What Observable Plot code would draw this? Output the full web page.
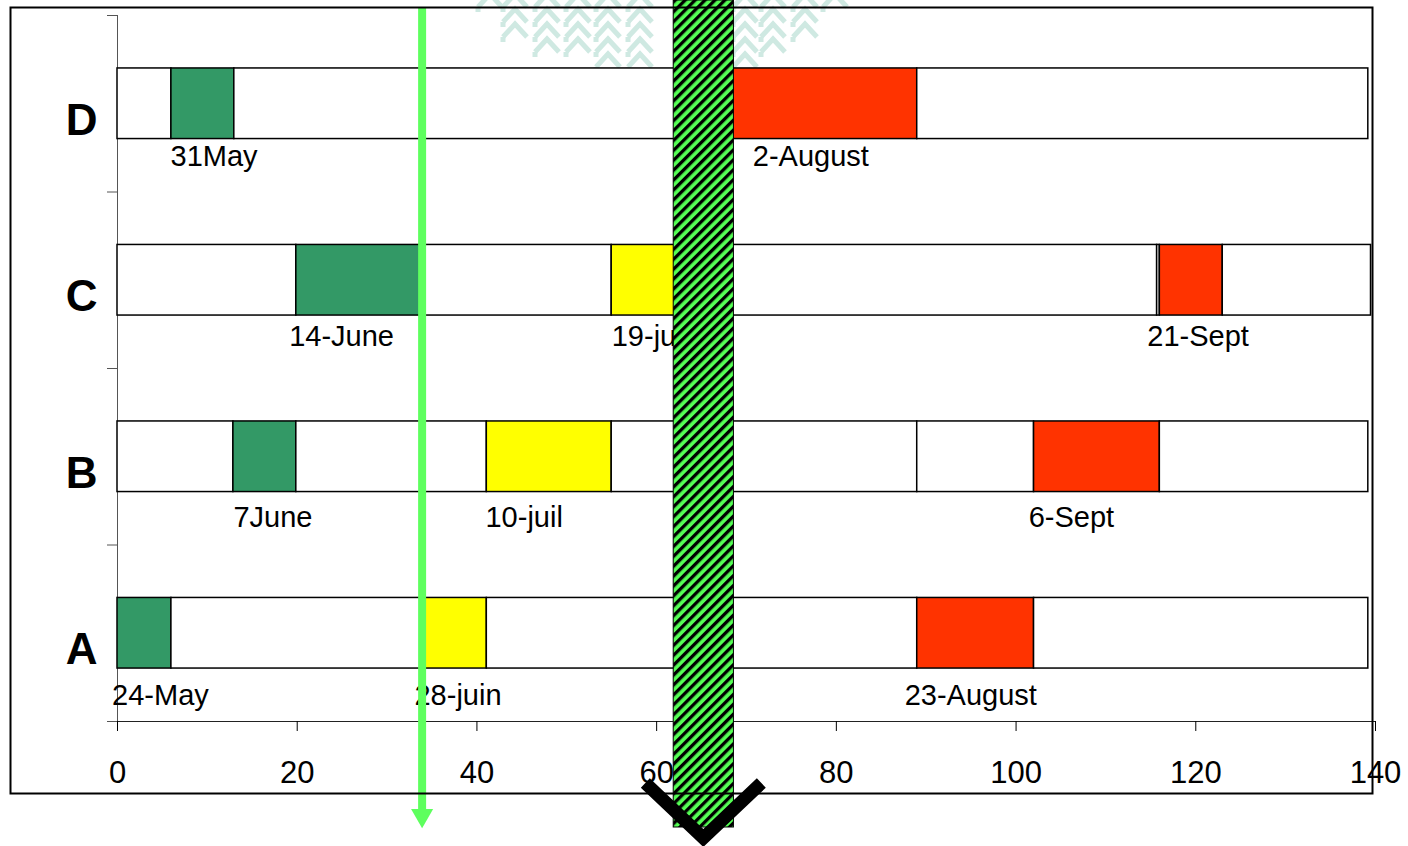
<!DOCTYPE html>
<html>
<head>
<meta charset="utf-8">
<script src="https://cdn.jsdelivr.net/npm/d3@7"></script>
<script src="https://cdn.jsdelivr.net/npm/@observablehq/plot@0.6"></script>
<style>
html, body { margin: 0; padding: 0; background: #fff; }
#chart { position: relative; width: 1408px; height: 846px; overflow: hidden; }
</style>
</head>
<body>
<div id="chart"></div>
<script>
// ---- data ----
const categories = ["A", "B", "C", "D"];
const xTicks = [0, 20, 40, 60, 80, 100, 120, 140];

const segCategory = ["A","A","A","A","A","A",
                     "B","B","B","B","B","B","B","B",
                     "C","C","C","C","C","C","C","C",
                     "D","D","D","D","D"];
const segStart = [0, 6, 34.2, 41.1, 89, 102,
                  0, 12.9, 19.9, 41.1, 55, 89, 102, 116,
                  0, 19.9, 34.0, 55, 62.5, 115.7, 116, 123,
                  0, 6, 13, 63, 89];
const segEnd   = [6, 34.2, 41.1, 89, 102, 139.2,
                  12.9, 19.9, 41.1, 55, 89, 102, 116, 139.2,
                  19.9, 34.0, 55, 62.5, 115.7, 116, 123, 139.5,
                  6, 13, 63, 89, 139.2];
const segStage = ["early","none","mid","none","late","none",
                  "none","early","none","mid","none","none","late","none",
                  "none","early","none","mid","none","none","late","none",
                  "none","early","none","late","none"];

const labelCategory = ["A","A","A","B","B","B","C","C","C","D","D"];
const labelText = ["24-May","28-juin","23-August","7June","10-juil","6-Sept",
                   "14-June","19-juil","21-Sept","31May","2-August"];
const labelX = [-0.6, 33.05, 87.6, 12.9, 40.95, 101.4, 19.1, 55.0, 114.6, 5.9, 70.7];

const arrowX = 33.9;          // green arrow marker
const bandStart = 61.9;       // hatched band
const bandEnd = 68.6;

const stages = ["early", "mid", "late", "none"];
const stageColors = ["#339966", "#FFFF00", "#FF3300", "#FFFFFF"];

// ---- tables ----
const segments = segStart.map((s, i) => ({cat: segCategory[i], start: s, end: segEnd[i], stage: segStage[i]}));
const labels = labelText.map((t, i) => ({cat: labelCategory[i], text: t, x: labelX[i]}));
const rowIndex = c => categories.indexOf(c);
const labelDy = {A: 36, B: 35, C: 30, D: 27};

const FONT = '"Liberation Sans", Arial, sans-serif';

const plot = Plot.plot({
  width: 1408,
  height: 846,
  marginLeft: 117,
  marginRight: 33,
  marginTop: 15,
  marginBottom: 125,
  style: {fontFamily: FONT, fontSize: "31px", color: "black", background: "white", overflow: "visible"},
  x: {domain: [0, 140]},
  y: {domain: [0, 4]},
  color: {type: "ordinal", domain: stages, range: stageColors},
  marks: [
    Plot.ruleX([0], {stroke: "#555", strokeWidth: 1}),
    Plot.ruleY([0], {stroke: "#222", strokeWidth: 1}),
    Plot.axisX({ticks: xTicks, tickSize: 10, tickPadding: 29, fontSize: 31, color: "black", label: null}),
    Plot.axisY({ticks: [0, 1, 2, 3, 4], tickSize: 10, tickFormat: () => "", color: "#555", label: null}),
    Plot.rect(segments, {
      x1: "start", x2: "end",
      y1: d => rowIndex(d.cat) + 0.3,
      y2: d => rowIndex(d.cat) + 0.7,
      fill: "stage", stroke: "black", strokeWidth: 1.5
    }),
    ...categories.map(c => Plot.text(labels.filter(d => d.cat === c), {
      x: "x", y: d => rowIndex(d.cat) + 0.3, text: "text",
      textAnchor: "start", lineAnchor: "bottom", dy: labelDy[c],
      fontSize: 29, fill: "black"
    })),
    Plot.text(categories, {
      y: d => rowIndex(d) + 0.5, text: d => d,
      frameAnchor: "left", dx: -20, dy: 31, textAnchor: "end", lineAnchor: "bottom",
      fontSize: 44, fontWeight: "bold", fill: "black"
    }),
    Plot.ruleX([arrowX], {stroke: "#5EFF5E", strokeWidth: 8, insetTop: -8, insetBottom: -88}),
    Plot.dot([arrowX], {x: d => d, frameAnchor: "bottom", dy: 94, symbol: "triangle", rotate: 180, r: 8.2, fill: "#5EFF5E", stroke: "none"}),
    Plot.rect([{x1: bandStart, x2: bandEnd}], {
      x1: "x1", x2: "x2", fill: "url(#hatch)", stroke: "black", strokeWidth: 1,
      insetTop: -15, insetBottom: -106
    }),
    Plot.frame({stroke: "black", strokeWidth: 2, insetLeft: -107, insetRight: 3, insetTop: -8, insetBottom: -72})
  ]
});

document.getElementById("chart").appendChild(plot);

// ---- decorations ----
const svg = d3.select(plot);
svg.insert("defs", ":first-child").html(
  `<pattern id="hatch" patternUnits="userSpaceOnUse" width="7" height="7" patternTransform="rotate(45)">
     <rect width="7" height="7" fill="#55FF55"></rect>
     <rect width="3.3" height="7" fill="black"></rect>
   </pattern>`
);

// faint background chevrons at the top
const chevCols = [[490, 1], [515, 3], [547, 4], [578, 4], [608, 5], [640, 5], [705, 5], [745, 5], [773, 4], [805, 3], [835, 1]];
const gChev = svg.insert("g", "defs + *").attr("fill", "none").attr("stroke", "#cfe9e2").attr("stroke-width", 5);
chevCols.forEach(([cx, n]) => {
  for (let k = 0; k < n; k++) {
    const y = -6 + k * 15;
    gChev.append("path").attr("d", `M${cx - 12},${y + 13}L${cx},${y}L${cx + 12},${y + 13}`);
    gChev.append("path").attr("d", `M${cx - 12},${y + 13}L${cx - 12},${y + 18}`);
  }
});

// black chevron under the hatched band
const xs = plot.scale("x");
const cx = (xs.apply(bandStart) + xs.apply(bandEnd)) / 2;
const yb = 846 - 125;
svg.append("path")
  .attr("d", `M${cx - 58},${yb + 62}L${cx},${yb + 117}L${cx + 58},${yb + 62}`)
  .attr("fill", "none").attr("stroke", "black").attr("stroke-width", 13)
  .attr("stroke-linejoin", "miter").attr("stroke-linecap", "butt");
</script>
</body>
</html>
